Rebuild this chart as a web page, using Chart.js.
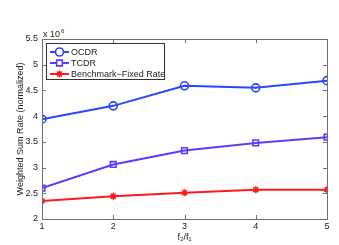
<!DOCTYPE html>
<html>
<head>
<meta charset="utf-8">
<script src="https://cdn.jsdelivr.net/npm/chart.js@4/dist/chart.umd.min.js"></script>
<style>
  html, body { margin: 0; padding: 0; background: #fff; }
  canvas { display: block; }
</style>
</head>
<body>
<canvas id="rateChart" width="339" height="245"></canvas>
<script>
// f2/f1 ratio
const ratios = [1, 2, 3, 4, 5];
// weighted sum rate, x 10^6
const ocdr = [3.94, 4.2, 4.59, 4.55, 4.69];
const tcdr = [2.6, 3.06, 3.33, 3.48, 3.59];
const benchmark = [2.35, 2.44, 2.51, 2.57, 2.57];
const seriesNames = ["OCDR", "TCDR", "Benchmark\u2212Fixed Rate"];
const yTicks = [2, 2.5, 3, 3.5, 4, 4.5, 5, 5.5];

const FONT = "'Liberation Sans', Arial, sans-serif";

function toPoints(ys) {
    return ratios.map((x, i) => ({ x: x, y: ys[i] }));
}

// frame, inward ticks, exponent label and in-plot legend
const matlabAxes = {
    id: "matlabAxes",
    afterDraw(chart) {
        const ctx = chart.ctx;
        const a = chart.chartArea;
        const xs = chart.scales.x;
        const ys = chart.scales.y;
        ctx.save();
        ctx.strokeStyle = "#707070";
        ctx.lineWidth = 1;
        ctx.strokeRect(Math.round(a.left) + 0.5, Math.round(a.top) + 0.5,
            Math.round(a.right - a.left), Math.round(a.bottom - a.top));
        ctx.beginPath();
        ratios.forEach((r) => {
            const px = Math.round(xs.getPixelForValue(r)) + 0.5;
            ctx.moveTo(px, a.bottom); ctx.lineTo(px, a.bottom - 4);
            ctx.moveTo(px, a.top); ctx.lineTo(px, a.top + 4);
        });
        yTicks.forEach((t) => {
            const py = Math.round(ys.getPixelForValue(t)) + 0.5;
            ctx.moveTo(a.left, py); ctx.lineTo(a.left + 4, py);
            ctx.moveTo(a.right, py); ctx.lineTo(a.right - 4, py);
        });
        ctx.stroke();

        // x 10^6
        ctx.fillStyle = "#222";
        ctx.textBaseline = "alphabetic";
        ctx.textAlign = "left";
        ctx.font = "9px " + FONT;
        ctx.fillText("x 10", a.left + 1, a.top - 2);
        const w = ctx.measureText("x 10").width;
        ctx.font = "6px " + FONT;
        ctx.fillText("6", a.left + 1 + w + 1, a.top - 6);

        // legend
        const lx = a.left + 4, ly = a.top + 4, lw = 118, lh = 36;
        ctx.fillStyle = "#fff";
        ctx.fillRect(lx, ly, lw, lh);
        ctx.strokeStyle = "#333";
        ctx.strokeRect(lx + 0.5, ly + 0.5, lw, lh);
        ctx.font = "9px " + FONT;
        ctx.textBaseline = "middle";
        chart.data.datasets.forEach((ds, i) => {
            const rowY = ly + 9 + i * 11;
            ctx.strokeStyle = ds.borderColor;
            ctx.lineWidth = 2;
            ctx.beginPath();
            ctx.moveTo(lx + 4, rowY);
            ctx.lineTo(lx + 23, rowY);
            ctx.stroke();
            ctx.fillStyle = "#fff";
            ctx.lineWidth = ds.pointBorderWidth;
            Chart.helpers.drawPoint(ctx, {
                pointStyle: ds.pointStyle,
                radius: ds.pointRadius,
                borderWidth: ds.pointBorderWidth
            }, lx + 13.5, rowY);
            ctx.fillStyle = "#222";
            ctx.fillText(ds.label, lx + 25, rowY + 1);
        });
        ctx.restore();
    }
};

function makeSet(label, ys, color, style, radius) {
    return {
        label: label,
        data: toPoints(ys),
        borderColor: color,
        backgroundColor: "rgba(0,0,0,0)",
        pointBorderColor: color,
        pointBackgroundColor: "rgba(0,0,0,0)",
        borderWidth: 2,
        pointStyle: style,
        pointRadius: radius,
        pointBorderWidth: 1.6,
        tension: 0
    };
}

const noGrid = { display: false, drawTicks: false, tickLength: 0 };

new Chart(document.getElementById("rateChart").getContext("2d"), {
    type: "line",
    data: {
        datasets: [
            makeSet(seriesNames[0], ocdr, "#2b45ff", "circle", 4),
            makeSet(seriesNames[1], tcdr, "#5a3cff", "rect", 4),
            makeSet(seriesNames[2], benchmark, "#ff1a1a", "star", 3.5)
        ]
    },
    options: {
        responsive: false,
        animation: false,
        devicePixelRatio: 1,
        layout: { padding: { top: 39, right: 12, left: 0, bottom: 0 } },
        plugins: { legend: { display: false }, tooltip: { enabled: false } },
        scales: {
            x: {
                type: "linear",
                min: 1,
                max: 5,
                afterFit(s) { s.height = 26; },
                afterBuildTicks(s) { s.ticks = ratios.map((v) => ({ value: v })); },
                grid: noGrid,
                border: { display: false },
                ticks: { color: "#222", font: { family: FONT, size: 9 }, padding: 2, maxRotation: 0 },
                title: {
                    display: true,
                    text: "f\u2082/f\u2081",
                    color: "#222",
                    font: { family: FONT, size: 9 },
                    padding: { top: 2, bottom: 2 }
                }
            },
            y: {
                min: 2,
                max: 5.5,
                afterFit(s) { s.width = 42; },
                afterBuildTicks(s) { s.ticks = yTicks.map((v) => ({ value: v })); },
                grid: noGrid,
                border: { display: false },
                ticks: {
                    color: "#222",
                    font: { family: FONT, size: 9 },
                    padding: 4,
                    callback: (v) => String(+v.toFixed(1))
                },
                title: {
                    display: true,
                    text: "Weighted Sum Rate (normalized)",
                    color: "#222",
                    font: { family: FONT, size: 9 },
                    padding: { top: 15, bottom: 0 }
                }
            }
        }
    },
    plugins: [matlabAxes]
});
</script>
</body>
</html>
